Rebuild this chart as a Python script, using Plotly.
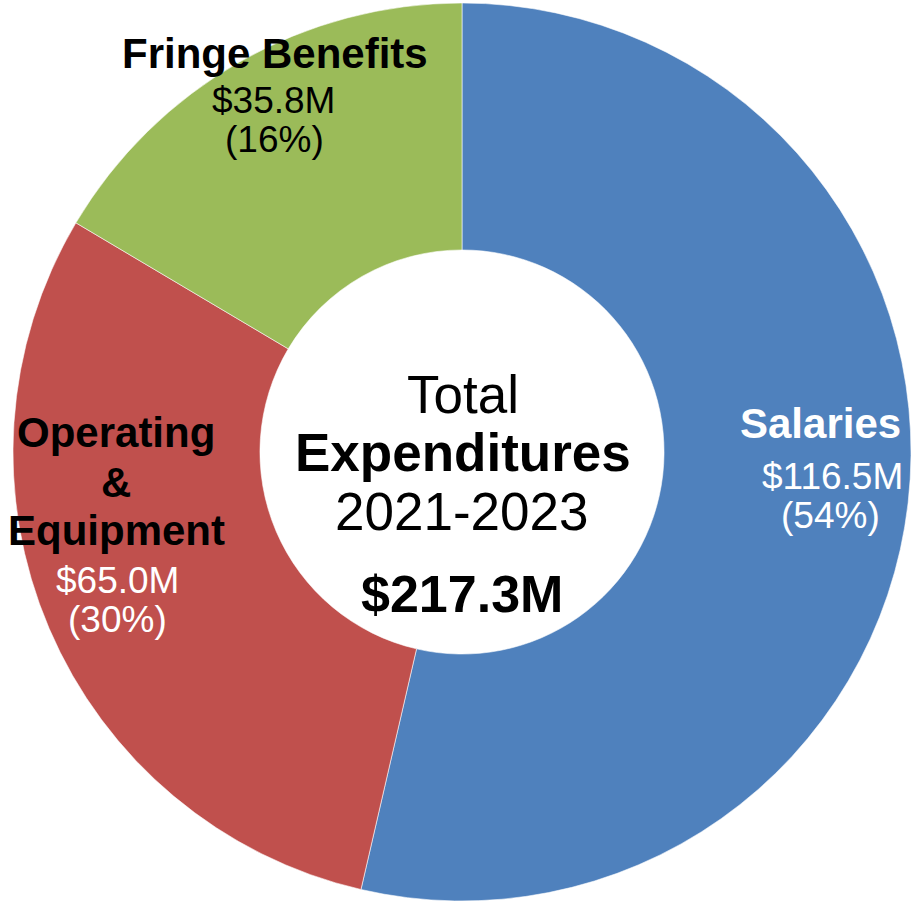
import plotly.graph_objects as go

# ---- data ----
categories = ["Salaries", "Operating<br>&<br>Equipment", "Fringe Benefits"]
values_musd = [116.5, 65.0, 35.8]
colors = ["#4F81BD", "#C0504D", "#9BBB59"]
center_title = ["Total", "Expenditures", "2021-2023"]

total = sum(values_musd)

W, H = 912, 904
FONT = "Liberation Sans, Arial, sans-serif"

fig = go.Figure()
fig.add_trace(go.Pie(
    labels=[c.replace("<br>", " ") for c in categories],
    values=values_musd,
    marker=dict(colors=colors, line=dict(color="rgba(255,255,255,0.7)", width=0.8)),
    hole=0.45,
    sort=False,
    direction="clockwise",
    rotation=0,
    textinfo="none",
    hoverinfo="label+value+percent",
    domain=dict(x=[13 / W, 911 / W], y=[(H - 901) / H, (H - 3) / H]),
))


def px_ann(text, cx, baseline, size, color="black", bold=False):
    yc = baseline - 0.35 * size
    fig.add_annotation(
        x=cx / W, y=1 - yc / H, xref="paper", yref="paper",
        xanchor="center", yanchor="middle", showarrow=False,
        text=f"<b>{text}</b>" if bold else text,
        font=dict(family=FONT, size=size, color=color),
    )


# center text
px_ann(center_title[0], 463, 413, 53)
px_ann(center_title[1], 463, 471, 53, bold=True)
px_ann(center_title[2], 462, 530, 53)
px_ann(f"${total:.1f}M", 462, 612, 52, bold=True)


def money(v):
    return f"${v:.1f}M"


def pct(v):
    return f"({round(v / total * 100)}%)"


# Salaries
px_ann(categories[0], 820, 438, 42, color="white", bold=True)
px_ann(money(values_musd[0]), 832, 489, 37, color="white")
px_ann(pct(values_musd[0]), 830, 528, 37, color="white")

# Operating & Equipment
op_lines = categories[1].split("<br>")
px_ann(op_lines[0], 116, 447, 42, bold=True)
px_ann(op_lines[1], 116, 497, 42, bold=True)
px_ann(op_lines[2], 116, 545, 42, bold=True)
px_ann(money(values_musd[1]), 117, 593, 37, color="white")
px_ann(pct(values_musd[1]), 117, 632, 37, color="white")

# Fringe Benefits
px_ann(categories[2], 275, 68, 42, bold=True)
px_ann(money(values_musd[2]), 273, 113, 37)
px_ann(pct(values_musd[2]), 274, 152, 37)

fig.update_layout(
    width=W, height=H,
    margin=dict(l=0, r=0, t=0, b=0),
    paper_bgcolor="white", plot_bgcolor="white",
    showlegend=False,
    font=dict(family=FONT),
)

fig.write_html(
    "out.html",
    config={"displayModeBar": False},
    post_script="document.body.style.margin='0';document.body.style.overflow='hidden';",
)
